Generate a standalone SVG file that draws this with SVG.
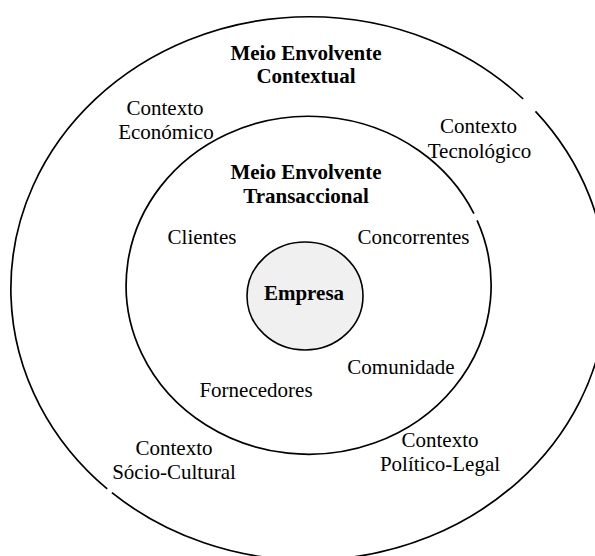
<svg xmlns="http://www.w3.org/2000/svg" width="595" height="556" viewBox="0 0 595 556">
<style>
.ring{fill:none;stroke:#000;stroke-width:1.7}
.core{fill:#f0f0f0;stroke:#000;stroke-width:1.6}
text{font-family:"Liberation Serif","Times New Roman",serif;font-size:21px;fill:#000;text-anchor:middle}
.b{font-weight:bold}
</style>
<rect width="595" height="556" fill="#fff"/>
<g id="connectors"></g>
<g id="contextual">
<path class="ring" d="M 535.5,111.4 A 298.5 272 0 0 1 111.9,492.7 M 107.2,488.9 A 298.5 272 0 1 1 523.2,99.0"/>
<text class="b" x="306" y="60">Meio Envolvente</text>
<text class="b" x="306" y="83">Contextual</text>
</g>
<g id="economico">
<text x="165" y="115">Contexto</text>
<text x="166" y="139">Económico</text>
</g>
<g id="tecnologico">
<text x="478.5" y="133">Contexto</text>
<text x="479.5" y="158">Tecnológico</text>
</g>
<g id="sociocultural">
<text x="174" y="455">Contexto</text>
<text x="174" y="479">Sócio-Cultural</text>
</g>
<g id="politicolegal">
<text x="440" y="447">Contexto</text>
<text x="440" y="471">Político-Legal</text>
</g>
<g id="transaccional">
<path class="ring" d="M 477.1,220.3 A 182.5 169 0 1 1 473.9,213.6"/>
<text class="b" x="306" y="179">Meio Envolvente</text>
<text class="b" x="306" y="203">Transaccional</text>
</g>
<g id="clientes"><text x="202" y="244">Clientes</text></g>
<g id="concorrentes"><text x="413.5" y="244">Concorrentes</text></g>
<g id="comunidade"><text x="401" y="374">Comunidade</text></g>
<g id="fornecedores"><text x="256" y="397">Fornecedores</text></g>
<g id="empresa">
<ellipse class="core" cx="305" cy="296" rx="58" ry="54"/>
<text class="b" x="304" y="300">Empresa</text>
</g>
</svg>
